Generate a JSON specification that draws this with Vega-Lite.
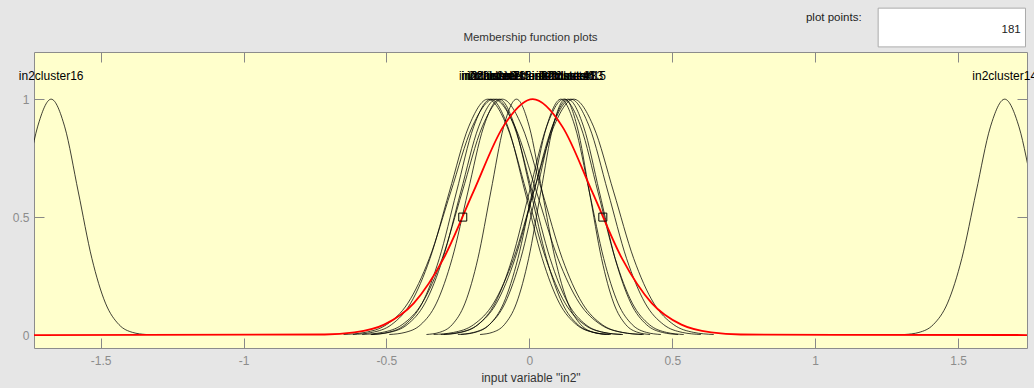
{
  "$schema": "https://vega.github.io/schema/vega-lite/v6.json",
  "width": 993,
  "height": 296,
  "autosize": "none",
  "padding": {"left": 34, "top": 52, "right": 7, "bottom": 40},
  "background": "#E6E6E6",
  "config": {
    "view": {"fill": "#FFFFCC", "stroke": "#8C8C8C", "strokeWidth": 1},
    "font": "Liberation Sans",
    "axis": {"grid": false, "domain": false, "zindex": 1, "tickColor": "#888888", "tickWidth": 1, "labelColor": "#8C8C8C", "labelFontSize": 12, "labelFont": "Liberation Sans", "titleFont": "Liberation Sans", "titleFontWeight": "normal", "titleFontSize": 12, "titleColor": "#333333"}
  },
  "title": {"text": "Membership function plots", "fontSize": 11.5, "fontWeight": "normal", "color": "#333333", "offset": 9, "dy": 44.5, "anchor": "middle", "font": "Liberation Sans"},
  "datasets": {
    "black": [
      {"mf":"in2cluster3","x":-0.6175,"y":0.0022},{"mf":"in2cluster3","x":-0.55,"y":0.0111},{"mf":"in2cluster3","x":-0.4825,"y":0.0439},{"mf":"in2cluster3","x":-0.415,"y":0.1353},{"mf":"in2cluster3","x":-0.3475,"y":0.3247},{"mf":"in2cluster3","x":-0.28,"y":0.6065},{"mf":"in2cluster3","x":-0.2125,"y":0.8825},{"mf":"in2cluster3","x":-0.145,"y":1},{"mf":"in2cluster3","x":-0.0775,"y":0.8825},{"mf":"in2cluster3","x":-0.01,"y":0.6065},{"mf":"in2cluster3","x":0.0575,"y":0.3247},{"mf":"in2cluster3","x":0.125,"y":0.1353},{"mf":"in2cluster3","x":0.1925,"y":0.0439},{"mf":"in2cluster3","x":0.26,"y":0.0111},{"mf":"in2cluster3","x":0.3275,"y":0.0022},
      {"mf":"in2cluster7","x":-0.555,"y":0.0022},{"mf":"in2cluster7","x":-0.495,"y":0.0111},{"mf":"in2cluster7","x":-0.435,"y":0.0439},{"mf":"in2cluster7","x":-0.375,"y":0.1353},{"mf":"in2cluster7","x":-0.315,"y":0.3247},{"mf":"in2cluster7","x":-0.255,"y":0.6065},{"mf":"in2cluster7","x":-0.195,"y":0.8825},{"mf":"in2cluster7","x":-0.135,"y":1},{"mf":"in2cluster7","x":-0.075,"y":0.8825},{"mf":"in2cluster7","x":-0.015,"y":0.6065},{"mf":"in2cluster7","x":0.045,"y":0.3247},{"mf":"in2cluster7","x":0.105,"y":0.1353},{"mf":"in2cluster7","x":0.165,"y":0.0439},{"mf":"in2cluster7","x":0.225,"y":0.0111},{"mf":"in2cluster7","x":0.285,"y":0.0022},
      {"mf":"in2cluster10","x":-0.65,"y":0.0022},{"mf":"in2cluster10","x":-0.575,"y":0.0111},{"mf":"in2cluster10","x":-0.5,"y":0.0439},{"mf":"in2cluster10","x":-0.425,"y":0.1353},{"mf":"in2cluster10","x":-0.35,"y":0.3247},{"mf":"in2cluster10","x":-0.275,"y":0.6065},{"mf":"in2cluster10","x":-0.2,"y":0.8825},{"mf":"in2cluster10","x":-0.125,"y":1},{"mf":"in2cluster10","x":-0.05,"y":0.8825},{"mf":"in2cluster10","x":0.025,"y":0.6065},{"mf":"in2cluster10","x":0.1,"y":0.3247},{"mf":"in2cluster10","x":0.175,"y":0.1353},{"mf":"in2cluster10","x":0.25,"y":0.0439},{"mf":"in2cluster10","x":0.325,"y":0.0111},{"mf":"in2cluster10","x":0.4,"y":0.0022},
      {"mf":"in2cluster1","x":-0.5525,"y":0.0022},{"mf":"in2cluster1","x":-0.49,"y":0.0111},{"mf":"in2cluster1","x":-0.4275,"y":0.0439},{"mf":"in2cluster1","x":-0.365,"y":0.1353},{"mf":"in2cluster1","x":-0.3025,"y":0.3247},{"mf":"in2cluster1","x":-0.24,"y":0.6065},{"mf":"in2cluster1","x":-0.1775,"y":0.8825},{"mf":"in2cluster1","x":-0.115,"y":1},{"mf":"in2cluster1","x":-0.0525,"y":0.8825},{"mf":"in2cluster1","x":0.01,"y":0.6065},{"mf":"in2cluster1","x":0.0725,"y":0.3247},{"mf":"in2cluster1","x":0.135,"y":0.1353},{"mf":"in2cluster1","x":0.1975,"y":0.0439},{"mf":"in2cluster1","x":0.26,"y":0.0111},{"mf":"in2cluster1","x":0.3225,"y":0.0022},
      {"mf":"in2cluster12","x":-0.49,"y":0.0022},{"mf":"in2cluster12","x":-0.435,"y":0.0111},{"mf":"in2cluster12","x":-0.38,"y":0.0439},{"mf":"in2cluster12","x":-0.325,"y":0.1353},{"mf":"in2cluster12","x":-0.27,"y":0.3247},{"mf":"in2cluster12","x":-0.215,"y":0.6065},{"mf":"in2cluster12","x":-0.16,"y":0.8825},{"mf":"in2cluster12","x":-0.105,"y":1},{"mf":"in2cluster12","x":-0.05,"y":0.8825},{"mf":"in2cluster12","x":0.005,"y":0.6065},{"mf":"in2cluster12","x":0.06,"y":0.3247},{"mf":"in2cluster12","x":0.115,"y":0.1353},{"mf":"in2cluster12","x":0.17,"y":0.0439},{"mf":"in2cluster12","x":0.225,"y":0.0111},{"mf":"in2cluster12","x":0.28,"y":0.0022},
      {"mf":"in2cluster5","x":-0.585,"y":0.0022},{"mf":"in2cluster5","x":-0.515,"y":0.0111},{"mf":"in2cluster5","x":-0.445,"y":0.0439},{"mf":"in2cluster5","x":-0.375,"y":0.1353},{"mf":"in2cluster5","x":-0.305,"y":0.3247},{"mf":"in2cluster5","x":-0.235,"y":0.6065},{"mf":"in2cluster5","x":-0.165,"y":0.8825},{"mf":"in2cluster5","x":-0.095,"y":1},{"mf":"in2cluster5","x":-0.025,"y":0.8825},{"mf":"in2cluster5","x":0.045,"y":0.6065},{"mf":"in2cluster5","x":0.115,"y":0.3247},{"mf":"in2cluster5","x":0.185,"y":0.1353},{"mf":"in2cluster5","x":0.255,"y":0.0439},{"mf":"in2cluster5","x":0.325,"y":0.0111},{"mf":"in2cluster5","x":0.395,"y":0.0022},
      {"mf":"in2cluster9","x":-0.36,"y":0.0022},{"mf":"in2cluster9","x":-0.315,"y":0.0111},{"mf":"in2cluster9","x":-0.27,"y":0.0439},{"mf":"in2cluster9","x":-0.225,"y":0.1353},{"mf":"in2cluster9","x":-0.18,"y":0.3247},{"mf":"in2cluster9","x":-0.135,"y":0.6065},{"mf":"in2cluster9","x":-0.09,"y":0.8825},{"mf":"in2cluster9","x":-0.045,"y":1},{"mf":"in2cluster9","x":0,"y":0.8825},{"mf":"in2cluster9","x":0.045,"y":0.6065},{"mf":"in2cluster9","x":0.09,"y":0.3247},{"mf":"in2cluster9","x":0.135,"y":0.1353},{"mf":"in2cluster9","x":0.18,"y":0.0439},{"mf":"in2cluster9","x":0.225,"y":0.0111},{"mf":"in2cluster9","x":0.27,"y":0.0022},
      {"mf":"in2cluster4","x":-0.24,"y":0.0022},{"mf":"in2cluster4","x":-0.19,"y":0.0111},{"mf":"in2cluster4","x":-0.14,"y":0.0439},{"mf":"in2cluster4","x":-0.09,"y":0.1353},{"mf":"in2cluster4","x":-0.04,"y":0.3247},{"mf":"in2cluster4","x":0.01,"y":0.6065},{"mf":"in2cluster4","x":0.06,"y":0.8825},{"mf":"in2cluster4","x":0.11,"y":1},{"mf":"in2cluster4","x":0.16,"y":0.8825},{"mf":"in2cluster4","x":0.21,"y":0.6065},{"mf":"in2cluster4","x":0.26,"y":0.3247},{"mf":"in2cluster4","x":0.31,"y":0.1353},{"mf":"in2cluster4","x":0.36,"y":0.0439},{"mf":"in2cluster4","x":0.41,"y":0.0111},{"mf":"in2cluster4","x":0.46,"y":0.0022},
      {"mf":"in2cluster11","x":-0.3,"y":0.0022},{"mf":"in2cluster11","x":-0.24,"y":0.0111},{"mf":"in2cluster11","x":-0.18,"y":0.0439},{"mf":"in2cluster11","x":-0.12,"y":0.1353},{"mf":"in2cluster11","x":-0.06,"y":0.3247},{"mf":"in2cluster11","x":0,"y":0.6065},{"mf":"in2cluster11","x":0.06,"y":0.8825},{"mf":"in2cluster11","x":0.12,"y":1},{"mf":"in2cluster11","x":0.18,"y":0.8825},{"mf":"in2cluster11","x":0.24,"y":0.6065},{"mf":"in2cluster11","x":0.3,"y":0.3247},{"mf":"in2cluster11","x":0.36,"y":0.1353},{"mf":"in2cluster11","x":0.42,"y":0.0439},{"mf":"in2cluster11","x":0.48,"y":0.0111},{"mf":"in2cluster11","x":0.54,"y":0.0022},
      {"mf":"in2cluster6","x":-0.1725,"y":0.0022},{"mf":"in2cluster6","x":-0.13,"y":0.0111},{"mf":"in2cluster6","x":-0.0875,"y":0.0439},{"mf":"in2cluster6","x":-0.045,"y":0.1353},{"mf":"in2cluster6","x":-0.0025,"y":0.3247},{"mf":"in2cluster6","x":0.04,"y":0.6065},{"mf":"in2cluster6","x":0.0825,"y":0.8825},{"mf":"in2cluster6","x":0.125,"y":1},{"mf":"in2cluster6","x":0.1675,"y":0.8825},{"mf":"in2cluster6","x":0.21,"y":0.6065},{"mf":"in2cluster6","x":0.2525,"y":0.3247},{"mf":"in2cluster6","x":0.295,"y":0.1353},{"mf":"in2cluster6","x":0.3375,"y":0.0439},{"mf":"in2cluster6","x":0.38,"y":0.0111},{"mf":"in2cluster6","x":0.4225,"y":0.0022},
      {"mf":"in2cluster8","x":-0.25,"y":0.0022},{"mf":"in2cluster8","x":-0.195,"y":0.0111},{"mf":"in2cluster8","x":-0.14,"y":0.0439},{"mf":"in2cluster8","x":-0.085,"y":0.1353},{"mf":"in2cluster8","x":-0.03,"y":0.3247},{"mf":"in2cluster8","x":0.025,"y":0.6065},{"mf":"in2cluster8","x":0.08,"y":0.8825},{"mf":"in2cluster8","x":0.135,"y":1},{"mf":"in2cluster8","x":0.19,"y":0.8825},{"mf":"in2cluster8","x":0.245,"y":0.6065},{"mf":"in2cluster8","x":0.3,"y":0.3247},{"mf":"in2cluster8","x":0.355,"y":0.1353},{"mf":"in2cluster8","x":0.41,"y":0.0439},{"mf":"in2cluster8","x":0.465,"y":0.0111},{"mf":"in2cluster8","x":0.52,"y":0.0022},
      {"mf":"in2cluster13","x":-0.31,"y":0.0022},{"mf":"in2cluster13","x":-0.245,"y":0.0111},{"mf":"in2cluster13","x":-0.18,"y":0.0439},{"mf":"in2cluster13","x":-0.115,"y":0.1353},{"mf":"in2cluster13","x":-0.05,"y":0.3247},{"mf":"in2cluster13","x":0.015,"y":0.6065},{"mf":"in2cluster13","x":0.08,"y":0.8825},{"mf":"in2cluster13","x":0.145,"y":1},{"mf":"in2cluster13","x":0.21,"y":0.8825},{"mf":"in2cluster13","x":0.275,"y":0.6065},{"mf":"in2cluster13","x":0.34,"y":0.3247},{"mf":"in2cluster13","x":0.405,"y":0.1353},{"mf":"in2cluster13","x":0.47,"y":0.0439},{"mf":"in2cluster13","x":0.535,"y":0.0111},{"mf":"in2cluster13","x":0.6,"y":0.0022},
      {"mf":"in2cluster15","x":-0.335,"y":0.0022},{"mf":"in2cluster15","x":-0.265,"y":0.0111},{"mf":"in2cluster15","x":-0.195,"y":0.0439},{"mf":"in2cluster15","x":-0.125,"y":0.1353},{"mf":"in2cluster15","x":-0.055,"y":0.3247},{"mf":"in2cluster15","x":0.015,"y":0.6065},{"mf":"in2cluster15","x":0.085,"y":0.8825},{"mf":"in2cluster15","x":0.155,"y":1},{"mf":"in2cluster15","x":0.225,"y":0.8825},{"mf":"in2cluster15","x":0.295,"y":0.6065},{"mf":"in2cluster15","x":0.365,"y":0.3247},{"mf":"in2cluster15","x":0.435,"y":0.1353},{"mf":"in2cluster15","x":0.505,"y":0.0439},{"mf":"in2cluster15","x":0.575,"y":0.0111},{"mf":"in2cluster15","x":0.645,"y":0.0022},
      {"mf":"in2cluster16","x":-1.863,"y":0.1353},{"mf":"in2cluster16","x":-1.8155,"y":0.3247},{"mf":"in2cluster16","x":-1.768,"y":0.6065},{"mf":"in2cluster16","x":-1.7205,"y":0.8825},{"mf":"in2cluster16","x":-1.673,"y":1},{"mf":"in2cluster16","x":-1.6255,"y":0.8825},{"mf":"in2cluster16","x":-1.578,"y":0.6065},{"mf":"in2cluster16","x":-1.5305,"y":0.3247},{"mf":"in2cluster16","x":-1.483,"y":0.1353},{"mf":"in2cluster16","x":-1.4355,"y":0.0439},{"mf":"in2cluster16","x":-1.388,"y":0.0111},{"mf":"in2cluster16","x":-1.3405,"y":0.0022},
      {"mf":"in2cluster14","x":1.313,"y":0.0022},{"mf":"in2cluster14","x":1.363,"y":0.0111},{"mf":"in2cluster14","x":1.413,"y":0.0439},{"mf":"in2cluster14","x":1.463,"y":0.1353},{"mf":"in2cluster14","x":1.513,"y":0.3247},{"mf":"in2cluster14","x":1.563,"y":0.6065},{"mf":"in2cluster14","x":1.613,"y":0.8825},{"mf":"in2cluster14","x":1.663,"y":1},{"mf":"in2cluster14","x":1.713,"y":0.8825},{"mf":"in2cluster14","x":1.763,"y":0.6065},{"mf":"in2cluster14","x":1.813,"y":0.3247},{"mf":"in2cluster14","x":1.863,"y":0.1353}
    ],
    "red": [
      {"mf":"in2cluster2","x":-1.733,"y":0},{"mf":"in2cluster2","x":-0.716,"y":0.0022},{"mf":"in2cluster2","x":-0.612,"y":0.0111},{"mf":"in2cluster2","x":-0.508,"y":0.0439},{"mf":"in2cluster2","x":-0.404,"y":0.1353},{"mf":"in2cluster2","x":-0.3,"y":0.3247},{"mf":"in2cluster2","x":-0.196,"y":0.6065},{"mf":"in2cluster2","x":-0.092,"y":0.8825},{"mf":"in2cluster2","x":0.012,"y":1},{"mf":"in2cluster2","x":0.116,"y":0.8825},{"mf":"in2cluster2","x":0.22,"y":0.6065},{"mf":"in2cluster2","x":0.324,"y":0.3247},{"mf":"in2cluster2","x":0.428,"y":0.1353},{"mf":"in2cluster2","x":0.532,"y":0.0439},{"mf":"in2cluster2","x":0.636,"y":0.0111},{"mf":"in2cluster2","x":0.74,"y":0.0022},{"mf":"in2cluster2","x":1.741,"y":0}
    ],
    "labels": [
      {"name":"in2cluster16","c":-1.673},{"name":"in2cluster3","c":-0.145},{"name":"in2cluster7","c":-0.135},{"name":"in2cluster10","c":-0.125},{"name":"in2cluster1","c":-0.115},{"name":"in2cluster12","c":-0.105},{"name":"in2cluster5","c":-0.095},{"name":"in2cluster9","c":-0.045},{"name":"in2cluster2","c":0.012},{"name":"in2cluster4","c":0.11},{"name":"in2cluster11","c":0.12},{"name":"in2cluster6","c":0.125},{"name":"in2cluster8","c":0.135},{"name":"in2cluster13","c":0.145},{"name":"in2cluster15","c":0.155},{"name":"in2cluster14","c":1.663}
    ],
    "squares": [
      {"x":-0.233,"y":0.5},{"x":0.257,"y":0.5}
    ],
    "ui": [{}]
  },
  "layer": [
    {
      "data": {"name": "black"},
      "mark": {"type": "line", "interpolate": "monotone", "stroke": "#000000", "strokeWidth": 1, "opacity": 0.75, "clip": true},
      "encoding": {
        "x": {"field": "x", "type": "quantitative", "scale": {"domain": [-1.733, 1.741], "nice": false, "zero": false}, "axis": {"orient": "bottom", "values": [-1.5, -1, -0.5, 0, 0.5, 1, 1.5], "labelExpr": "'' + datum.value", "offset": -10, "tickSize": 10, "labelPadding": 7, "title": "input variable \"in2\"", "titlePadding": 6}},
        "y": {"field": "y", "type": "quantitative", "scale": {"domain": [-0.055, 1.2], "nice": false, "zero": false}, "axis": {"orient": "left", "values": [0, 0.5, 1], "labelExpr": "'' + datum.value", "offset": -10, "tickSize": 10, "labelPadding": 5, "title": null}},
        "detail": {"field": "mf"}
      }
    },
    {
      "data": {"name": "red"},
      "mark": {"type": "line", "interpolate": "monotone", "stroke": "#FF0000", "strokeWidth": 1.8, "clip": true},
      "encoding": {
        "x": {"field": "x", "type": "quantitative", "axis": null},
        "y": {"field": "y", "type": "quantitative", "axis": null}
      }
    },
    {
      "data": {"name": "squares"},
      "mark": {"type": "point", "shape": "square", "filled": false, "size": 64, "stroke": "#000000", "strokeWidth": 1, "opacity": 1},
      "encoding": {
        "x": {"field": "x", "type": "quantitative", "axis": null},
        "y": {"field": "y", "type": "quantitative", "axis": null}
      }
    },
    {
      "data": {"name": "labels"},
      "mark": {"type": "text", "align": "center", "baseline": "middle", "fontSize": 12, "color": "#000000", "font": "Liberation Sans"},
      "encoding": {
        "x": {"field": "c", "type": "quantitative", "axis": {"orient": "top", "values": [-1.5, -1, -0.5, 0, 0.5, 1, 1.5], "labels": false, "offset": -10, "tickSize": 10, "title": null}},
        "y": {"datum": 1.1, "type": "quantitative", "axis": {"orient": "right", "values": [0, 0.5, 1], "labels": false, "offset": -10, "tickSize": 10, "title": null}},
        "text": {"field": "name"}
      }
    },
    {
      "data": {"name": "ui"},
      "mark": {"type": "rect", "fill": "#FFFFFF", "stroke": "#ABABAB", "strokeWidth": 1, "clip": false},
      "encoding": {
        "x": {"datum": 1.2203, "type": "quantitative", "axis": null},
        "x2": {"datum": 1.7357},
        "y": {"datum": 1.386, "type": "quantitative", "axis": null},
        "y2": {"datum": 1.2216}
      }
    },
    {
      "data": {"name": "ui"},
      "mark": {"type": "text", "text": "plot points:", "align": "center", "baseline": "middle", "fontSize": 11.5, "color": "#222222", "font": "Liberation Sans"},
      "encoding": {
        "x": {"datum": 1.065, "type": "quantitative", "axis": null},
        "y": {"datum": 1.3435, "type": "quantitative", "axis": null}
      }
    },
    {
      "data": {"name": "ui"},
      "mark": {"type": "text", "text": "181", "align": "right", "baseline": "middle", "fontSize": 11.5, "color": "#222222", "font": "Liberation Sans"},
      "encoding": {
        "x": {"datum": 1.719, "type": "quantitative", "axis": null},
        "y": {"datum": 1.294, "type": "quantitative", "axis": null}
      }
    }
  ],
  "resolve": {"axis": {"x": "independent", "y": "independent"}}
}
